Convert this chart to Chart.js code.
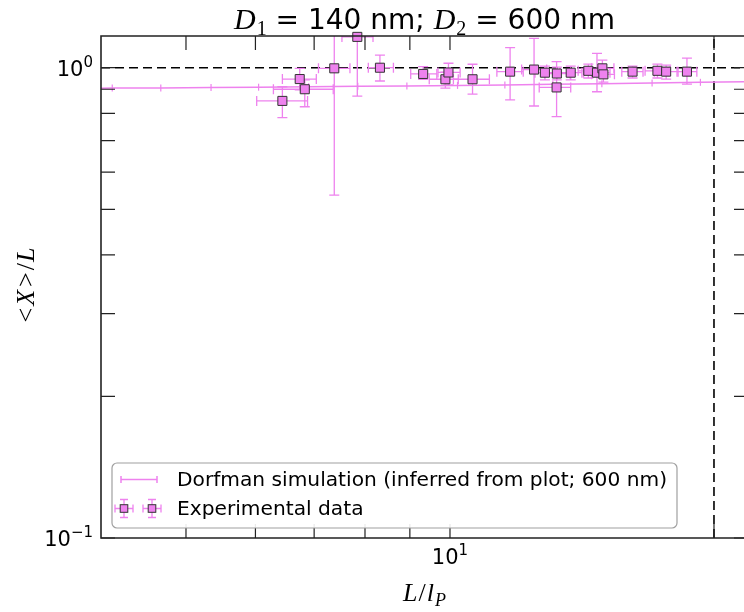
<!DOCTYPE html>
<html>
<head>
<meta charset="utf-8">
<script src="https://cdn.jsdelivr.net/npm/chart.js@4.4.0/dist/chart.umd.min.js"></script>
<style>
  html, body { margin: 0; padding: 0; background: #fff; }
  canvas { display: block; }
</style>
</head>
<body>
<canvas id="xlChart" width="744" height="612"></canvas>
<script>
// Dorfman simulation
let simX = [3.6, 4.12, 4.68, 5.34, 6.05, 6.9, 7.85, 8.93, 10.2, 11.55, 13.1, 14.9, 17.0, 19.3, 22.0];
let simY = [0.903, 0.905, 0.906, 0.908, 0.909, 0.911, 0.913, 0.914, 0.917, 0.919, 0.922, 0.925, 0.928, 0.931, 0.934];

// Experimental data, with x / y error ranges
let expX   = [6.44, 6.74, 6.83, 7.38, 7.84, 8.32, 9.32, 9.88, 9.96, 10.61, 11.71, 12.47, 12.83, 13.24, 13.23, 13.73, 14.38, 14.71, 14.92, 14.96, 16.15, 17.24, 17.64, 18.63];
let expY   = [0.850, 0.946, 0.900, 0.997, 1.163, 1.000, 0.970, 0.945, 0.977, 0.945, 0.981, 0.991, 0.976, 0.972, 0.908, 0.976, 0.985, 0.976, 0.997, 0.968, 0.981, 0.985, 0.981, 0.981];
let expXLo = [6.02, 6.44, 6.29, 7.08, 7.53, 8.07, 9.02, 9.47, 9.69, 10.09, 11.31, 12.07, 12.50, 12.83, 12.64, 13.35, 14.00, 14.20, 14.50, 14.50, 15.70, 16.69, 17.10, 18.15];
let expXHi = [6.88, 7.04, 7.36, 7.69, 8.17, 8.62, 9.66, 10.22, 10.27, 11.09, 12.12, 12.89, 13.35, 13.70, 13.73, 14.14, 14.83, 15.22, 15.38, 15.40, 16.60, 17.83, 18.20, 19.12];
let expYLo = [0.783, 0.897, 0.826, 0.536, 0.870, 0.937, 0.945, 0.905, 0.919, 0.879, 0.854, 0.829, 0.942, 0.942, 0.787, 0.942, 0.951, 0.889, 0.955, 0.932, 0.951, 0.951, 0.946, 0.923];
let expYHi = [0.911, 0.997, 0.942, 1.458, 1.456, 1.064, 1.005, 0.979, 1.022, 1.017, 1.103, 1.155, 1.008, 1.003, 1.030, 1.008, 1.018, 1.073, 1.038, 0.998, 1.008, 1.018, 1.013, 1.048];

// axes (log-log)
let xMin = 4, xMax = 21.64;
let yMin = 0.1, yMax = 1.168;
let xTicks = [5, 6, 7, 8, 9, 10, 20];
let yTicks = [0.1, 0.2, 0.3, 0.4, 0.5, 0.6, 0.7, 0.8, 0.9, 1];
let xTickLabels = [[10, '10', '1']];
let yTickLabels = [[1, '10', '0'], [0.1, '10', '\u22121']];

// dashed reference lines
let refX = 20;
let refY = 1;

let simLabel = 'Dorfman simulation (inferred from plot; 600 nm)';
let expLabel = 'Experimental data';

const violet = '#ee82ee';
const sans = '"DejaVu Sans", sans-serif';
const serif = '"Liberation Serif", "DejaVu Serif", serif';

// draw a run of text pieces (math italic, subscripts...) in one go
function drawParts(ctx, parts, x, y, align) {
    let total = 0;
    parts.forEach(p => {
        ctx.font = p.f;
        p.w = ctx.measureText(p.t).width + (p.gap || 0);
        total += p.w;
    });
    let cx = align === 'center' ? x - total / 2 : (align === 'right' ? x - total : x);
    ctx.textAlign = 'left';
    ctx.textBaseline = 'alphabetic';
    parts.forEach(p => {
        ctx.font = p.f;
        ctx.fillText(p.t, cx, y + (p.dy || 0));
        cx += p.w;
    });
}

function drawErrorBars(chart) {
    let ctx = chart.ctx, xs = chart.scales.x, ys = chart.scales.y, a = chart.chartArea;
    let cap = 5;
    ctx.save();
    ctx.beginPath();
    ctx.rect(a.left, a.top, a.right - a.left, a.bottom - a.top);
    ctx.clip();
    ctx.strokeStyle = violet;
    ctx.lineWidth = 1.3;
    for (let i = 0; i < expX.length; i++) {
        let px = xs.getPixelForValue(expX[i]), py = ys.getPixelForValue(expY[i]);
        let x0 = xs.getPixelForValue(expXLo[i]), x1 = xs.getPixelForValue(expXHi[i]);
        let y0 = ys.getPixelForValue(expYLo[i]), y1 = ys.getPixelForValue(expYHi[i]);
        ctx.beginPath();
        ctx.moveTo(x0, py); ctx.lineTo(x1, py);
        ctx.moveTo(x0, py - cap); ctx.lineTo(x0, py + cap);
        ctx.moveTo(x1, py - cap); ctx.lineTo(x1, py + cap);
        ctx.moveTo(px, y0); ctx.lineTo(px, y1);
        ctx.moveTo(px - cap, y0); ctx.lineTo(px + cap, y0);
        ctx.moveTo(px - cap, y1); ctx.lineTo(px + cap, y1);
        ctx.stroke();
    }
    ctx.restore();
}

let errorBarPlugin = {
    id: 'errorBars',
    beforeDatasetDraw(chart, args) {
        if (args.index === 3) drawErrorBars(chart);
    }
};

let decorPlugin = {
    id: 'decor',
    afterDatasetsDraw(chart) {
        let ctx = chart.ctx, xs = chart.scales.x, ys = chart.scales.y, a = chart.chartArea;
        let right = a.right + 4; // right spine sits just off the picture
        let tick = 14;
        ctx.save();

        // frame
        ctx.strokeStyle = '#222';
        ctx.lineWidth = 1.6;
        ctx.beginPath();
        ctx.moveTo(right, a.top); ctx.lineTo(a.left, a.top);
        ctx.lineTo(a.left, a.bottom); ctx.lineTo(right, a.bottom);
        ctx.lineTo(right, a.top);
        ctx.stroke();

        // inward ticks on all four sides
        ctx.lineWidth = 1.2;
        ctx.beginPath();
        xTicks.forEach(v => {
            let px = xs.getPixelForValue(v);
            ctx.moveTo(px, a.bottom); ctx.lineTo(px, a.bottom - tick);
            ctx.moveTo(px, a.top); ctx.lineTo(px, a.top + tick);
        });
        yTicks.forEach(v => {
            let py = ys.getPixelForValue(v);
            ctx.moveTo(a.left, py); ctx.lineTo(a.left + tick, py);
            ctx.moveTo(right, py); ctx.lineTo(right - tick, py);
        });
        ctx.stroke();

        // tick labels 10^n
        ctx.fillStyle = '#000';
        yTickLabels.forEach(t => {
            let py = ys.getPixelForValue(t[0]);
            drawParts(ctx, [
                { t: t[1], f: '21px ' + sans },
                { t: t[2], f: '15px ' + sans, dy: -9 }
            ], a.left - 8, py + 8, 'right');
        });
        xTickLabels.forEach(t => {
            let px = xs.getPixelForValue(t[0]);
            drawParts(ctx, [
                { t: t[1], f: '21px ' + sans },
                { t: t[2], f: '15px ' + sans, dy: -9 }
            ], px, a.bottom + 26, 'center');
        });

        let mid = (a.left + right) / 2;

        // title
        drawParts(ctx, [
            { t: 'D', f: 'italic 30px ' + serif, gap: 1 },
            { t: '1', f: '20px ' + serif, dy: 6 },
            { t: ' = 140 nm; ', f: '28px ' + sans },
            { t: 'D', f: 'italic 30px ' + serif, gap: 1 },
            { t: '2', f: '20px ' + serif, dy: 6 },
            { t: ' = 600 nm', f: '28px ' + sans }
        ], mid, 29, 'center');

        // axis titles
        drawParts(ctx, [
            { t: 'L', f: 'italic 26px ' + serif, gap: 1 },
            { t: '/', f: '26px ' + serif, gap: 1 },
            { t: 'l', f: 'italic 26px ' + serif, gap: 1 },
            { t: 'P', f: 'italic 18px ' + serif, dy: 5 }
        ], mid, 601, 'center');

        ctx.save();
        ctx.translate(34, 285);
        ctx.rotate(-Math.PI / 2);
        drawParts(ctx, [
            { t: '<', f: '26px ' + serif, gap: 2 },
            { t: 'X', f: 'italic 26px ' + serif, gap: 3 },
            { t: '>', f: '26px ' + serif, gap: 2 },
            { t: '/', f: '26px ' + serif, gap: 1 },
            { t: 'L', f: 'italic 26px ' + serif }
        ], 0, 0, 'center');
        ctx.restore();

        // legend box
        let lx = a.left + 11, ly = a.bottom - 75, lw = 565, lh = 65;
        ctx.fillStyle = 'rgba(255,255,255,0.9)';
        ctx.strokeStyle = '#a0a0a0';
        ctx.lineWidth = 1.2;
        ctx.beginPath();
        ctx.roundRect(lx, ly, lw, lh, 5);
        ctx.fill();
        ctx.stroke();

        // entry 1: line with caps
        let r1 = ly + 16.5;
        ctx.strokeStyle = violet;
        ctx.lineWidth = 1.5;
        ctx.beginPath();
        ctx.moveTo(lx + 9, r1); ctx.lineTo(lx + 45, r1);
        ctx.moveTo(lx + 9, r1 - 3.5); ctx.lineTo(lx + 9, r1 + 3.5);
        ctx.moveTo(lx + 45, r1 - 3.5); ctx.lineTo(lx + 45, r1 + 3.5);
        ctx.stroke();

        // entry 2: two square markers with error bars
        let r2 = ly + 45.5;
        [lx + 12, lx + 40].forEach(mx => {
            ctx.strokeStyle = violet;
            ctx.lineWidth = 1.3;
            ctx.beginPath();
            ctx.moveTo(mx - 9, r2); ctx.lineTo(mx + 9, r2);
            ctx.moveTo(mx - 9, r2 - 4); ctx.lineTo(mx - 9, r2 + 4);
            ctx.moveTo(mx + 9, r2 - 4); ctx.lineTo(mx + 9, r2 + 4);
            ctx.moveTo(mx, r2 - 9); ctx.lineTo(mx, r2 + 9);
            ctx.moveTo(mx - 4, r2 - 9); ctx.lineTo(mx + 4, r2 - 9);
            ctx.moveTo(mx - 4, r2 + 9); ctx.lineTo(mx + 4, r2 + 9);
            ctx.stroke();
            ctx.fillStyle = violet;
            ctx.strokeStyle = '#333';
            ctx.lineWidth = 1;
            ctx.fillRect(mx - 3.8, r2 - 3.8, 7.6, 7.6);
            ctx.strokeRect(mx - 3.8, r2 - 3.8, 7.6, 7.6);
        });

        ctx.fillStyle = '#000';
        ctx.font = '20.2px ' + sans;
        ctx.textAlign = 'left';
        ctx.textBaseline = 'middle';
        ctx.fillText(simLabel, lx + 65, r1 + 1);
        ctx.fillText(expLabel, lx + 65, r2 + 1);

        ctx.restore();
    }
};

let xlCanvas = document.getElementById('xlChart');
if (xlCanvas) {
    let xlChart = new Chart(xlCanvas.getContext('2d'), {
        type: 'scatter',
        data: {
            datasets: [{
                label: 'y = 1',
                data: [{ x: xMin, y: refY }, { x: xMax, y: refY }],
                showLine: true,
                borderColor: '#000',
                borderWidth: 1.6,
                borderDash: [9, 5],
                pointRadius: 0,
                order: 4
            }, {
                label: 'x = 20',
                data: [{ x: refX, y: yMin }, { x: refX, y: yMax }],
                showLine: true,
                borderColor: '#000',
                borderWidth: 1.6,
                borderDash: [9, 5],
                pointRadius: 0,
                order: 3
            }, {
                label: simLabel,
                data: simX.map((x, i) => ({ x: x, y: simY[i] })),
                showLine: true,
                borderColor: violet,
                borderWidth: 1.5,
                pointStyle: 'line',
                rotation: 90,
                pointRadius: 3.5,
                pointBorderColor: violet,
                pointBorderWidth: 1.2,
                order: 2
            }, {
                label: expLabel,
                data: expX.map((x, i) => ({ x: x, y: expY[i] })),
                showLine: false,
                pointStyle: 'rect',
                pointRadius: 6.4,
                backgroundColor: violet,
                borderColor: '#333',
                borderWidth: 1,
                clip: false,
                order: 1
            }]
        },
        options: {
            responsive: false,
            animation: false,
            devicePixelRatio: 1,
            layout: {
                autoPadding: false,
                padding: { left: 101, top: 36, right: 0, bottom: 74 }
            },
            scales: {
                x: { type: 'logarithmic', min: xMin, max: xMax, display: false },
                y: { type: 'logarithmic', min: yMin, max: yMax, display: false }
            },
            plugins: {
                legend: { display: false },
                title: { display: false },
                tooltip: { enabled: false }
            }
        },
        plugins: [errorBarPlugin, decorPlugin]
    });
}
</script>
</body>
</html>
